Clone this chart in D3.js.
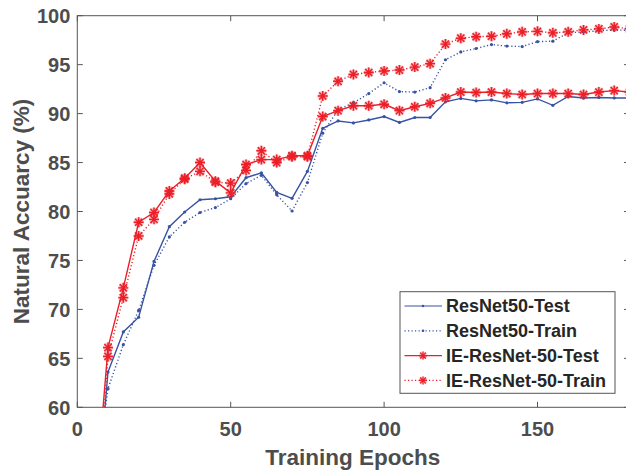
<!DOCTYPE html>
<html>
<head>
<meta charset="utf-8">
<script src="https://cdn.jsdelivr.net/npm/d3@7"></script>
<style>
  body { margin: 0; background: #fff; }
  svg { display: block; font-family: "Liberation Sans", Arial, sans-serif; }
</style>
</head>
<body>
<script>
// training epochs (point every 5 epochs)
const epochs = [5,10,15,20,25,30,35,40,45,50,55,60,65,70,75,80,85,90,95,100,
  105,110,115,120,125,130,135,140,145,150,155,160,165,170,175,180];

const resnetTest = [45,63.6,67.7,69.2,74.9,78.45,79.95,81.2,81.3,81.5,83.45,83.95,81.95,81.35,84.1,88.5,89.25,89.05,89.35,89.7,
  89.1,89.6,89.6,91.2,91.55,91.3,91.4,91.1,91.15,91.5,90.85,91.75,91.6,91.65,91.6,91.6];
const resnetTrain = [50,61.9,66.4,69.9,74.5,77.4,78.9,79.9,80.4,81.3,82.85,83.7,81.7,80.05,82.95,88.0,90.4,91.1,92.05,93.15,
  92.25,92.2,92.65,95.5,96.3,96.65,97.05,96.9,96.85,97.35,97.4,98.25,98.35,98.45,98.55,98.5];
const ieTest = [47,66.1,72.2,78.9,79.9,82.1,83.4,85.0,83.1,81.9,84.8,85.3,85.3,85.7,85.7,89.7,90.3,90.8,90.8,90.95,
  90.3,90.7,91.05,91.6,92.2,92.15,92.2,92.05,91.95,92.05,92.05,92.05,91.95,92.2,92.35,92.2];
const ieTrain = [44,65.2,71.2,77.5,79.2,81.8,83.3,84.1,83.0,82.9,84.2,86.2,85.0,85.6,85.6,91.8,93.3,94.0,94.2,94.35,
  94.45,94.75,95.1,97.1,97.7,97.85,97.9,98.15,98.35,98.4,98.25,98.35,98.55,98.65,98.85,98.65];

const xTicks = [0,50,100,150];
const yTicks = [60,65,70,75,80,85,90,95,100];

const blue = "#3853a4", red = "#ec1f28";
const series = [
  {name: "ResNet50-Test", values: resnetTest, color: blue, dash: null, marker: "dot"},
  {name: "ResNet50-Train", values: resnetTrain, color: blue, dash: "1.2,2.3", marker: "dot"},
  {name: "IE-ResNet-50-Test", values: ieTest, color: red, dash: null, marker: "star"},
  {name: "IE-ResNet-50-Train", values: ieTrain, color: red, dash: "1.2,2.3", marker: "star"}
];

const W = 626, H = 470;
const pLeft = 77.3, pTop = 15.7, pBottom = 407.3;
const x = d3.scaleLinear().domain([0, 180]).range([pLeft, pLeft + 180 * 3.068]);
const y = d3.scaleLinear().domain([60, 100]).range([pBottom, pTop]);
const pRight = x(180);

const svg = d3.select("body").append("svg").attr("width", W).attr("height", H);

svg.append("clipPath").attr("id", "plot")
  .append("rect").attr("x", pLeft).attr("y", pTop).attr("width", pRight - pLeft).attr("height", pBottom - pTop);

const axisColor = "#555", textColor = "#4d4d4d";
const tickLen = 5.5;

// box + inward ticks (matlab style)
svg.append("rect").attr("x", pLeft).attr("y", pTop).attr("width", pRight - pLeft).attr("height", pBottom - pTop)
  .attr("fill", "none").attr("stroke", axisColor).attr("stroke-width", 1);

const ticks = svg.append("g").attr("stroke", axisColor).attr("stroke-width", 1);
for (const t of xTicks) {
  ticks.append("line").attr("x1", x(t)).attr("x2", x(t)).attr("y1", pBottom).attr("y2", pBottom - tickLen);
  ticks.append("line").attr("x1", x(t)).attr("x2", x(t)).attr("y1", pTop).attr("y2", pTop + tickLen);
}
for (const t of yTicks) {
  ticks.append("line").attr("x1", pLeft).attr("x2", pLeft + tickLen).attr("y1", y(t)).attr("y2", y(t));
  ticks.append("line").attr("x1", pRight).attr("x2", pRight - tickLen).attr("y1", y(t)).attr("y2", y(t));
}

svg.append("g").selectAll("text").data(xTicks).join("text")
  .attr("x", d => x(d)).attr("y", 436).attr("text-anchor", "middle")
  .attr("font-size", 20).attr("font-weight", "bold").attr("fill", textColor)
  .text(d => d);

svg.append("g").selectAll("text").data(yTicks).join("text")
  .attr("x", pLeft - 7).attr("y", d => y(d)).attr("dy", "0.36em").attr("text-anchor", "end")
  .attr("font-size", 20).attr("font-weight", "bold").attr("fill", textColor)
  .text(d => d);

svg.append("text").attr("x", (pLeft + 626) / 2 + 1).attr("y", 465).attr("text-anchor", "middle")
  .attr("font-size", 22.5).attr("font-weight", "bold").attr("fill", textColor)
  .text("Training Epochs");

svg.append("text").attr("transform", `translate(29,${(pTop + pBottom) / 2}) rotate(-90)`)
  .attr("text-anchor", "middle")
  .attr("font-size", 22.5).attr("font-weight", "bold").attr("fill", textColor)
  .text("Natural Accuarcy (%)");

const star = "M-5,0H5M0,-5V5M-3.6,-3.6L3.6,3.6M-3.6,3.6L3.6,-3.6";

function drawMarker(g, type, color) {
  if (type === "dot") {
    g.append("circle").attr("r", 1.6).attr("fill", color);
  } else {
    g.append("path").attr("d", star).attr("stroke", color).attr("stroke-opacity", 0.35).attr("stroke-width", 3).attr("fill", "none");
    g.append("path").attr("d", star).attr("stroke", color).attr("stroke-width", 1.4).attr("fill", "none");
  }
}

const line = d3.line().x((d, i) => x(epochs[i])).y(d => y(d));
const plot = svg.append("g").attr("clip-path", "url(#plot)");

for (const s of series) {
  plot.append("path").datum(s.values)
    .attr("d", line).attr("fill", "none")
    .attr("stroke", s.color).attr("stroke-width", 1.4)
    .attr("stroke-dasharray", s.dash);
  s.values.forEach((v, i) => {
    const g = plot.append("g").attr("transform", `translate(${x(epochs[i])},${y(v)})`);
    drawMarker(g, s.marker, s.color);
  });
}

// legend
const lg = svg.append("g");
lg.append("rect").attr("x", 400).attr("y", 291.7).attr("width", 215).attr("height", 101.6)
  .attr("fill", "#fff").attr("stroke", axisColor).attr("stroke-width", 1);
series.forEach((s, i) => {
  const cy = 306 + i * 24.8;
  lg.append("line").attr("x1", 404.5).attr("x2", 442).attr("y1", cy).attr("y2", cy)
    .attr("stroke", s.color).attr("stroke-width", 1.2).attr("stroke-dasharray", s.dash);
  const g = lg.append("g").attr("transform", `translate(423,${cy}) scale(0.8)`);
  drawMarker(g, s.marker, s.color);
  lg.append("text").attr("x", 446).attr("y", cy).attr("dy", "0.36em")
    .attr("font-size", 18).attr("font-weight", "bold").attr("fill", "#262626")
    .text(s.name);
});
</script>
</body>
</html>
